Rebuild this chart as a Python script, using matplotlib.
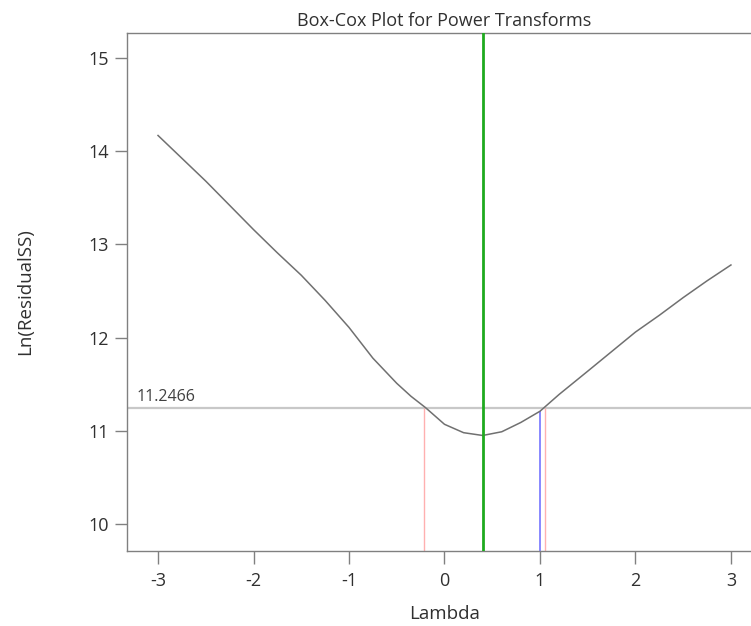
import numpy as np
import matplotlib
matplotlib.use("Agg")
import matplotlib.pyplot as plt

# curve
LAMBDA = [-3, -2.5, -2, -1.75, -1.5, -1.25, -1, -0.75, -0.5, -0.35, -0.2, 0, 0.2,
          0.4, 0.6, 0.8, 1, 1.2, 1.5, 1.75, 2, 2.25, 2.5, 2.75, 3]
LN_SS = [14.17, 13.68, 13.16, 12.91, 12.67, 12.40, 12.11, 11.78, 11.51, 11.37, 11.25,
         11.07, 10.98, 10.95, 10.99, 11.09, 11.21, 11.39, 11.64, 11.85, 12.06, 12.24,
         12.43, 12.61, 12.78]

BEST = 0.4          # green
CURRENT = 1.0       # blue
CI = [-0.21, 1.05]  # red
CI_LEVEL = 11.2466

plt.rcParams['font.family'] = ['Open Sans', 'DejaVu Sans']
plt.rcParams['axes.unicode_minus'] = False
GREY = '#808080'
TXT = '#303030'

fig = plt.figure(figsize=(7.51, 6.26), dpi=100)
ax = fig.add_axes([0.1691, 0.1198, 0.8455, 0.8275])

ax.set_xlim(-3.325, 3.325)
ax.set_ylim(9.71, 15.27)
ymin = ax.get_ylim()[0]

ax.axhline(CI_LEVEL, color='#c8c8c8', lw=1.6, zorder=1)
ax.plot(LAMBDA, LN_SS, color='#707070', lw=1.1, zorder=3)
ax.vlines(CI, ymin, CI_LEVEL, color='#ffb0b0', lw=1.0, zorder=2)
ax.vlines(CURRENT, ymin, np.interp(CURRENT, LAMBDA, LN_SS), color='#7f7fff', lw=1.3, zorder=2)
ax.axvline(BEST, color='#1faa1f', lw=2.0, zorder=4)

ax.annotate('%.4f' % CI_LEVEL, xy=(-3.23, CI_LEVEL), xytext=(0, 2),
            textcoords='offset points', va='bottom', ha='left',
            fontsize=11.5, color='#404040')

ax.set_xticks([-3, -2, -1, 0, 1, 2, 3])
ax.set_yticks([10, 11, 12, 13, 14, 15])

for s in ax.spines.values():
    s.set_color(GREY)
    s.set_linewidth(1.0)

ax.tick_params(axis='both', colors=GREY, labelcolor=TXT, length=9,
               width=1.0, labelsize=13)
ax.tick_params(axis='x', pad=6)
ax.tick_params(axis='y', pad=4)

ax.set_title('Box-Cox Plot for Power Transforms', fontsize=13, color=TXT, pad=5)
ax.set_xlabel('Lambda', fontsize=13.5, color=TXT)
ax.set_ylabel('Ln(ResidualSS)', fontsize=13.5, color=TXT)
ax.xaxis.set_label_coords(0.5, -0.104)
ax.yaxis.set_label_coords(-0.146, 0.5)

fig.savefig('out.png', dpi=100)
